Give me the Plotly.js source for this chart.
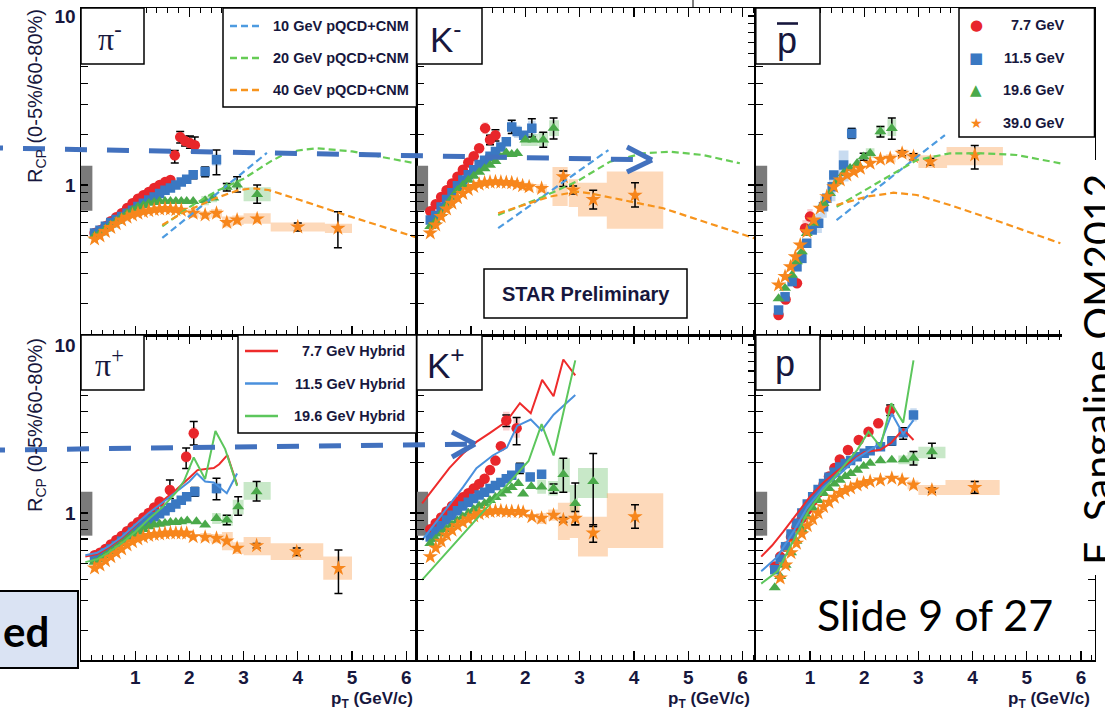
<!DOCTYPE html>
<html><head><meta charset="utf-8">
<script src="https://cdn.plot.ly/plotly-3.0.1.min.js"></script>
<style>html,body{margin:0;padding:0;background:#fff;}#chart{width:1105px;height:712px;}</style>
</head><body><div id="chart"></div>
<script>
// ================= DATA =================
const energyLabels = ['7.7 GeV','11.5 GeV','19.6 GeV','39.0 GeV'];
const modelLabels  = ['10 GeV pQCD+CNM','20 GeV pQCD+CNM','40 GeV pQCD+CNM'];
const hybridLabels = ['7.7 GeV Hybrid','11.5 GeV Hybrid','19.6 GeV Hybrid'];
const xTickVals    = [1,2,3,4,5,6];
const yTickVals    = [0.2,0.3,0.4,0.5,0.6,0.7,0.8,0.9,1,2,3,4,5,6,7,8,9,10];
const yTickText    = ['','','','','','','','','1','','','','','','','','','10'];
const normBoxTop = [0.705,1.30], normBoxBottom = [0.733,1.34], normBoxWidth = 0.21;

// ---- pi- ----
const pimRedX = [0.25,0.35,0.45,0.55,0.65,0.75,0.85,0.95,1.05,1.15,1.25,1.35,1.45,1.55,1.65,1.73,1.83,1.92,2.01,2.10];
const pimRedY = [0.52,0.54,0.57,0.61,0.645,0.68,0.73,0.78,0.83,0.87,0.91,0.96,1.00,1.04,1.07,1.50,1.92,1.82,1.77,1.72];
const pimRedErr = [[1.73,0.10,0.15],[1.83,0.15,0.15],[1.92,0.12,0.12],[2.01,0.18,0.12],[2.10,0.20,0.15]];
const pimRedSys = [[1.68,1.78,1.42,1.58],[1.78,1.88,1.82,2.02],[1.87,1.97,1.72,1.92],[1.96,2.06,1.68,1.86],[2.05,2.15,1.63,1.81]];
const pimBlueX = [0.25,0.35,0.45,0.55,0.65,0.75,0.85,0.95,1.05,1.15,1.25,1.35,1.45,1.55,1.65,1.75,1.85,1.95,2.07,2.29,2.50];
const pimBlueY = [0.52,0.54,0.57,0.60,0.625,0.65,0.68,0.71,0.745,0.78,0.815,0.85,0.89,0.93,0.96,1.00,1.04,1.08,1.15,1.20,1.41];
const pimBlueErr = [[2.07,0.06,0.06],[2.29,0.08,0.08],[2.50,0.20,0.26]];
const pimBlueSys = [[2.42,2.58,1.30,1.53]];
const pimGreenX = [0.25,0.35,0.45,0.55,0.65,0.75,0.85,0.95,1.05,1.15,1.25,1.35,1.45,1.55,1.65,1.75,1.85,1.95,2.07,2.29,2.44,2.69,2.88,3.25];
const pimGreenY = [0.50,0.52,0.55,0.58,0.61,0.645,0.68,0.71,0.74,0.76,0.78,0.79,0.80,0.80,0.80,0.80,0.80,0.80,0.80,0.81,0.84,0.97,1.00,0.88];
const pimGreenErr = [[2.69,0.05,0.05],[2.88,0.12,0.09],[3.25,0.12,0.10]];
const pimGreenSys = [[2.22,2.36,0.76,0.86],[2.37,2.51,0.79,0.89],[2.62,2.76,0.92,1.03],[2.81,2.95,0.94,1.07],[3.0,3.5,0.80,0.97]];
const pimOrangeX = [0.25,0.35,0.45,0.55,0.65,0.75,0.85,0.95,1.05,1.15,1.25,1.35,1.45,1.55,1.65,1.75,1.85,2.07,2.29,2.50,2.69,2.88,3.25,4.00,4.74];
const pimOrangeY = [0.48,0.50,0.53,0.56,0.59,0.62,0.645,0.665,0.68,0.695,0.705,0.715,0.72,0.725,0.72,0.715,0.71,0.68,0.665,0.68,0.60,0.62,0.63,0.565,0.555];
const pimOrangeErr = [[4.00,0.03,0.03],[4.74,0.14,0.13]];
const pimOrangeSys = [[1.97,2.17,0.64,0.72],[2.19,2.39,0.63,0.70],[2.40,2.60,0.64,0.72],[2.60,2.79,0.56,0.65],[2.79,3.0,0.58,0.66],[3.0,3.5,0.59,0.68],[3.5,4.5,0.53,0.60],[4.5,5.0,0.52,0.59]];
const pimM10X = [1.50,3.43], pimM10Y = [0.486,1.547];
const pimM20X = [1.50,2.00,2.50,3.00,3.50,3.75,4.00,4.35,5.00,5.50,6.19];
const pimM20Y = [0.57,0.74,0.92,1.09,1.38,1.52,1.60,1.65,1.58,1.48,1.34];
const pimM40X = [1.50,1.86,2.48,2.91,3.17,3.46,4.04,4.78,6.19];
const pimM40Y = [0.58,0.68,0.834,0.934,0.956,0.934,0.815,0.68,0.49];

// ---- K- ----
const kamRedX = [0.25,0.35,0.45,0.55,0.65,0.75,0.85,0.95,1.05,1.15,1.26,1.35,1.45];
const kamRedY = [0.70,0.77,0.85,0.93,1.02,1.12,1.23,1.36,1.48,1.65,2.17,1.85,1.97];
const kamRedErr = [[1.35,0.12,0.12],[1.45,0.15,0.15]];
const kamRedSys = [[1.21,1.31,2.0,2.35],[1.30,1.40,1.72,2.0]];
const kamBlueX = [0.25,0.35,0.45,0.55,0.65,0.75,0.85,0.95,1.05,1.15,1.25,1.35,1.45,1.55,1.65,1.75,1.85,1.97,2.12];
const kamBlueY = [0.62,0.66,0.74,0.82,0.90,0.99,1.07,1.15,1.23,1.32,1.40,1.48,1.58,1.68,1.80,2.20,2.07,1.97,2.17];
const kamBlueErr = [[1.75,0.22,0.18],[2.12,0.30,0.25]];
const kamBlueSys = [[1.69,1.81,2.0,2.4],[1.79,1.91,1.9,2.25],[2.05,2.19,1.95,2.4]];
const kamGreenX = [0.25,0.35,0.45,0.55,0.65,0.75,0.85,0.95,1.05,1.15,1.25,1.35,1.45,1.55,1.65,1.75,1.85,2.00,2.15,2.33,2.52];
const kamGreenY = [0.57,0.61,0.68,0.76,0.84,0.93,1.00,1.07,1.13,1.19,1.25,1.31,1.38,1.46,1.55,1.52,1.54,1.85,1.85,1.85,2.17];
const kamGreenErr = [[2.33,0.20,0.18],[2.52,0.32,0.30]];
const kamGreenSys = [[1.92,2.08,1.7,2.0],[2.07,2.23,1.7,2.0],[2.24,2.42,1.7,2.05],[2.44,2.62,1.95,2.42]];
const kamOrangeX = [0.25,0.35,0.45,0.55,0.65,0.75,0.85,0.95,1.05,1.15,1.25,1.35,1.45,1.55,1.65,1.75,1.85,1.95,2.07,2.30,2.70,2.88,3.25,4.02];
const kamOrangeY = [0.52,0.58,0.65,0.72,0.78,0.84,0.89,0.94,0.98,1.01,1.03,1.04,1.045,1.04,1.035,1.03,1.01,0.99,0.975,0.955,1.12,0.935,0.82,0.87];
const kamOrangeErr = [[2.70,0.09,0.14],[2.88,0.05,0.05],[3.25,0.11,0.10],[4.02,0.16,0.13]];
const kamOrangeSys = [[1.95,2.15,0.92,1.03],[2.2,2.4,0.9,1.01],[2.5,2.78,0.75,1.28],[2.8,2.97,0.74,1.08],[2.97,3.5,0.65,1.03],[3.5,4.54,0.55,1.2]];
const kamM10X = [1.50,3.53], kamM10Y = [0.555,1.61];
const kamM20X = [1.50,2.33,2.95,3.56,4.17,4.67,5.27,5.95];
const kamM20Y = [0.665,0.853,1.05,1.374,1.54,1.574,1.505,1.344];
const kamM40X = [1.50,2.45,2.95,3.19,4.54,5.40,6.22];
const kamM40Y = [0.68,0.853,0.913,0.893,0.728,0.593,0.484];

// ---- anti-proton ----
const pbRedX = [0.42,0.55,0.76,0.91,1.00];
const pbRedY = [0.17,0.21,0.262,0.555,0.65];
const pbRedErr = [];
const pbRedSys = [[0.86,0.96,0.5,0.62],[0.95,1.05,0.58,0.72]];
const pbBlueX = [0.42,0.54,0.67,0.76,0.85,0.94,1.04,1.16,1.25,1.31,1.41,1.44,1.62,1.77];
const pbBlueY = [0.182,0.218,0.268,0.328,0.368,0.452,0.541,0.594,0.744,0.834,0.977,1.146,1.313,2.02];
const pbBlueErr = [[1.77,0.14,0.12]];
const pbBlueSys = [[1.10,1.22,0.52,0.68],[1.19,1.31,0.64,0.86],[1.35,1.47,0.80,1.22],[1.53,1.71,1.05,1.60],[1.70,1.84,1.85,2.2]];
const pbGreenX = [0.42,0.54,0.67,0.76,0.85,0.94,1.07,1.25,1.37,1.50,1.62,1.74,1.87,1.99,2.11,2.30,2.51];
const pbGreenY = [0.213,0.245,0.293,0.352,0.403,0.518,0.594,0.779,0.893,1.046,1.173,1.255,1.344,1.471,1.54,2.07,2.165];
const pbGreenErr = [[1.99,0.07,0.07],[2.30,0.15,0.15],[2.51,0.33,0.30]];
const pbGreenSys = [[2.03,2.19,1.45,1.65],[2.22,2.38,1.92,2.25],[2.43,2.59,1.95,2.45]];
const pbOrangeX = [0.42,0.54,0.64,0.73,0.82,0.94,1.07,1.19,1.31,1.44,1.56,1.68,1.81,1.93,2.11,2.30,2.48,2.70,2.91,3.22,4.04];
const pbOrangeY = [0.256,0.287,0.328,0.376,0.441,0.529,0.62,0.728,0.853,0.977,1.07,1.146,1.199,1.255,1.344,1.419,1.439,1.54,1.471,1.374,1.505];
const pbOrangeErr = [[2.70,0.05,0.05],[2.91,0.06,0.06],[3.22,0.06,0.06],[4.04,0.21,0.26]];
const pbOrangeSys = [[2.4,2.58,1.36,1.52],[2.6,2.8,1.45,1.63],[2.8,3.0,1.38,1.56],[3.0,3.53,1.26,1.5],[3.52,4.56,1.31,1.68]];
const pbM10X = [1.49,3.49], pbM10Y = [0.62,1.976];
const pbM20X = [1.49,2.35,2.97,3.58,4.20,4.81,5.62];
const pbM20Y = [0.744,1.07,1.405,1.54,1.54,1.505,1.344];
const pbM40X = [1.49,2.05,2.54,2.97,3.58,4.50,5.62];
const pbM40Y = [0.761,0.853,0.90,0.873,0.761,0.606,0.452];

// ---- pi+ ----
const pipRedX = [0.25,0.35,0.45,0.55,0.65,0.75,0.85,0.95,1.05,1.15,1.25,1.35,1.45,1.64,1.94,2.08];
const pipRedY = [0.56,0.58,0.61,0.65,0.69,0.73,0.78,0.83,0.88,0.94,1.00,1.08,1.17,1.37,2.16,2.98];
const pipRedErr = [[1.64,0.20,0.15],[1.94,0.28,0.32],[2.08,0.52,0.44]];
const pipRedSys = [[1.59,1.69,1.28,1.47],[1.89,1.99,2.0,2.33],[2.03,2.13,2.75,3.25]];
const pipBlueX = [0.25,0.35,0.45,0.55,0.65,0.75,0.85,0.95,1.05,1.15,1.25,1.35,1.45,1.55,1.65,1.75,1.85,1.95,2.10,2.50];
const pipBlueY = [0.53,0.55,0.58,0.61,0.64,0.68,0.72,0.77,0.81,0.86,0.91,0.95,0.99,1.03,1.08,1.13,1.19,1.25,1.34,1.40];
const pipBlueErr = [[2.10,0.08,0.08],[2.50,0.21,0.20]];
const pipBlueSys = [[2.03,2.17,1.25,1.44],[2.43,2.57,1.3,1.52]];
const pipGreenX = [0.25,0.35,0.45,0.55,0.65,0.75,0.85,0.95,1.05,1.15,1.25,1.35,1.45,1.55,1.65,1.75,1.85,1.96,2.13,2.29,2.50,2.69,2.90,3.24];
const pipGreenY = [0.51,0.53,0.56,0.59,0.62,0.66,0.70,0.74,0.77,0.80,0.83,0.85,0.86,0.87,0.88,0.88,0.89,0.90,0.89,0.85,0.93,0.91,1.09,1.34];
const pipGreenErr = [[2.69,0.06,0.06],[2.90,0.16,0.12],[3.24,0.20,0.16]];
const pipGreenSys = [[2.42,2.58,0.86,1.0],[2.6,2.8,0.84,0.98],[2.8,3.0,0.98,1.2],[3.0,3.5,1.2,1.53]];
const pipOrangeX = [0.25,0.35,0.45,0.55,0.65,0.75,0.85,0.95,1.05,1.15,1.25,1.35,1.45,1.55,1.65,1.75,1.85,1.95,2.07,2.29,2.50,2.69,2.88,3.24,3.98,4.75];
const pipOrangeY = [0.47,0.49,0.52,0.55,0.58,0.61,0.645,0.675,0.70,0.72,0.735,0.745,0.75,0.757,0.76,0.76,0.76,0.757,0.722,0.717,0.707,0.681,0.616,0.639,0.588,0.468];
const pipOrangeErr = [[3.24,0.02,0.02],[3.98,0.03,0.03],[4.75,0.134,0.136]];
const pipOrangeSys = [[2.2,2.4,0.68,0.76],[2.4,2.6,0.66,0.75],[2.6,2.8,0.60,0.77],[2.8,3.0,0.57,0.67],[3.0,3.5,0.56,0.72],[3.5,4.47,0.525,0.66],[4.47,5.0,0.40,0.55]];
const pipH77X  = [0.08,0.30,0.50,0.75,1.00,1.25,1.50,1.75,2.00,2.15,2.30,2.45,2.55,2.70,2.88];
const pipH77Y  = [0.55,0.57,0.62,0.71,0.84,1.02,1.18,1.37,1.62,1.80,1.83,1.85,1.95,2.21,1.47];
const pipH115X = [0.08,0.30,0.50,0.75,1.00,1.25,1.50,1.75,2.00,2.14,2.29,2.45,2.69,2.88];
const pipH115Y = [0.56,0.58,0.63,0.72,0.85,1.00,1.15,1.33,1.54,1.72,1.54,1.52,1.31,1.72];
const pipH196X = [0.08,0.30,0.50,0.75,1.00,1.25,1.50,1.75,1.90,2.08,2.29,2.48,2.66,2.88];
const pipH196Y = [0.51,0.53,0.58,0.66,0.77,0.92,1.08,1.32,1.55,2.14,1.59,3.08,2.40,1.45];

// ---- K+ ----
const kapRedX = [0.25,0.35,0.45,0.55,0.65,0.75,0.85,0.95,1.05,1.15,1.25,1.35,1.45,1.55,1.65,1.84];
const kapRedY = [0.80,0.87,0.94,1.02,1.10,1.17,1.24,1.31,1.40,1.49,1.60,1.80,2.05,2.50,3.55,3.20];
const kapRedErr = [[1.65,0.28,0.28],[1.84,0.50,0.65]];
const kapRedSys = [[1.59,1.71,3.1,4.0],[1.78,1.9,2.8,3.7]];
const kapBlueX = [0.25,0.35,0.45,0.55,0.65,0.75,0.85,0.95,1.05,1.15,1.25,1.35,1.45,1.55,1.65,1.75,1.90,2.09,2.30];
const kapBlueY = [0.72,0.78,0.84,0.91,0.97,1.03,1.10,1.16,1.22,1.28,1.33,1.40,1.46,1.52,1.60,1.68,1.85,1.64,1.70];
const kapBlueErr = [[1.90,0.13,0.13],[2.30,0.08,0.08]];
const kapBlueSys = [[1.84,1.96,1.72,1.98],[2.03,2.15,1.55,1.75],[2.24,2.36,1.6,1.8]];
const kapGreenX = [0.25,0.35,0.45,0.55,0.65,0.75,0.85,0.95,1.05,1.15,1.25,1.35,1.45,1.55,1.65,1.75,1.87,1.96,2.11,2.30,2.52,2.70,2.92,3.25];
const kapGreenY = [0.66,0.70,0.75,0.80,0.85,0.90,0.95,1.00,1.05,1.10,1.14,1.19,1.24,1.30,1.36,1.42,1.50,1.30,1.44,1.43,1.40,1.70,1.14,1.54];
const kapGreenErr = [[2.52,0.09,0.09],[2.70,0.42,0.37],[2.92,0.37,0.29],[3.25,0.72,0.71]];
const kapGreenSys = [[2.22,2.38,1.3,1.58],[2.42,2.6,1.27,1.55],[2.6,2.82,1.33,2.12],[2.82,2.97,1.01,1.47],[2.97,3.52,1.23,1.85]];
const kapOrangeX = [0.25,0.35,0.45,0.55,0.65,0.75,0.85,0.95,1.05,1.15,1.25,1.35,1.45,1.55,1.65,1.75,1.87,1.96,2.12,2.30,2.52,2.70,2.92,3.25,4.02];
const kapOrangeY = [0.55,0.62,0.68,0.74,0.79,0.84,0.88,0.92,0.96,0.99,1.01,1.02,1.03,1.03,1.02,1.02,1.02,1.01,0.95,0.93,0.97,0.91,0.93,0.76,0.95];
const kapOrangeErr = [[2.70,0.03,0.03],[2.92,0.09,0.08],[3.25,0.09,0.09],[4.02,0.17,0.14]];
const kapOrangeSys = [[2.2,2.4,0.86,1.0],[2.42,2.6,0.9,1.05],[2.6,2.82,0.69,1.15],[2.82,3.0,0.71,1.16],[2.97,3.52,0.55,0.95],[3.5,4.54,0.62,1.31]];
const kapH77X  = [0.10,0.35,0.60,0.85,1.10,1.35,1.65,1.90,2.10,2.31,2.52,2.70,2.92];
const kapH77Y  = [1.14,1.45,1.85,2.25,2.65,3.00,3.50,4.50,3.92,6.20,4.95,8.20,6.60];
const kapH115X = [0.10,0.35,0.60,0.85,1.10,1.40,1.66,1.85,2.10,2.30,2.52,2.92];
const kapH115Y = [0.69,0.88,1.12,1.42,1.85,2.20,2.45,3.30,3.60,3.10,3.85,5.04];
const kapH196X = [0.10,2.06,2.30,2.52,2.92];
const kapH196Y = [0.40,2.04,3.38,2.20,8.10];

// ---- proton ----
const ppRedX = [0.35,0.45,0.55,0.65,0.75,0.85,0.95,1.05,1.15,1.25,1.35,1.45,1.55,1.70,1.90,2.08,2.26,2.48];
const ppRedY = [0.48,0.55,0.63,0.72,0.82,0.93,1.05,1.18,1.32,1.48,1.65,1.85,2.08,2.37,2.72,3.05,3.42,4.10];
const ppRedErr = [[2.48,0.30,0.30]];
const ppRedSys = [[2.42,2.54,3.8,4.4]];
const ppBlueX = [0.35,0.45,0.55,0.65,0.75,0.85,0.95,1.05,1.15,1.25,1.35,1.45,1.55,1.65,1.75,1.87,2.00,2.11,2.30,2.51,2.72,2.91];
const ppBlueY = [0.46,0.53,0.63,0.75,0.87,1.00,1.13,1.25,1.38,1.50,1.63,1.75,1.88,1.97,2.05,2.16,2.27,2.35,2.48,2.68,3.00,3.83];
const ppBlueErr = [[2.30,0.10,0.10],[2.51,0.15,0.15],[2.72,0.22,0.25]];
const ppBlueSys = [[2.85,2.97,3.5,4.2]];
const ppGreenX = [0.35,0.45,0.55,0.65,0.75,0.85,0.95,1.05,1.15,1.25,1.35,1.45,1.55,1.65,1.75,1.87,1.99,2.11,2.30,2.51,2.73,2.91,3.25];
const ppGreenY = [0.36,0.42,0.49,0.58,0.68,0.80,0.95,1.07,1.19,1.31,1.40,1.49,1.57,1.65,1.72,1.80,1.90,1.98,2.05,2.07,2.08,2.12,2.32];
const ppGreenErr = [[2.91,0.20,0.19],[3.25,0.28,0.20]];
const ppGreenSys = [[2.63,2.83,1.95,2.2],[2.8,3.0,1.95,2.3],[3.0,3.5,2.12,2.48]];
const ppOrangeX = [0.45,0.55,0.65,0.75,0.85,0.95,1.05,1.15,1.25,1.35,1.45,1.55,1.65,1.75,1.87,1.99,2.11,2.30,2.51,2.70,2.91,3.25,4.04];
const ppOrangeY = [0.41,0.49,0.58,0.66,0.75,0.84,0.92,1.00,1.09,1.16,1.24,1.31,1.36,1.41,1.47,1.51,1.54,1.57,1.61,1.57,1.47,1.37,1.42];
const ppOrangeErr = [[3.25,0.04,0.04],[4.04,0.12,0.11]];
const ppOrangeSys = [[2.8,3.0,1.38,1.56],[3.0,3.5,1.28,1.47],[3.5,4.5,1.28,1.57]];
const ppH77X  = [0.10,0.30,0.50,0.75,1.00,1.25,1.50,1.75,2.00,2.30,2.50,2.72,2.91];
const ppH77Y  = [0.55,0.64,0.77,0.98,1.25,1.52,1.78,2.02,2.30,2.38,2.62,3.15,2.72];
const ppH115X = [0.10,0.40,0.70,0.95,1.25,1.56,1.87,2.11,2.30,2.51,2.72,2.91];
const ppH115Y = [0.45,0.55,0.78,1.08,1.42,1.72,2.12,2.37,2.60,3.90,2.95,3.57];
const ppH196X = [0.10,0.40,0.70,0.95,1.25,1.56,1.87,2.08,2.30,2.50,2.72,2.91];
const ppH196Y = [0.38,0.45,0.69,1.00,1.37,1.80,2.37,3.05,2.48,4.50,3.45,8.10];

// ================= STYLE =================
const W = 1105, H = 712;
const COL = {red:'#e8262b', blue:'#3a78c2', green:'#4aa94a', orange:'#f7861c'};
const SYSC = {red:'rgba(240,110,110,0.33)', blue:'rgba(110,160,215,0.38)', green:'rgba(110,195,110,0.38)', orange:'rgba(250,165,90,0.42)'};
const SYM = {red:'circle', blue:'square', green:'triangle-up', orange:'star'};
const MSZ = {red:10.5, blue:9.5, green:10.5, orange:11.5};
const LINESTY = {
  m10:{color:'#4d9be0', width:2.2, dash:'7px,4px'}, m20:{color:'#66cc55', width:2.2, dash:'7px,4px'}, m40:{color:'#f7941d', width:2.2, dash:'7px,4px'},
  h77:{color:'#ee2b2b', width:2}, h115:{color:'#4a90dd', width:2}, h196:{color:'#5cc65c', width:2}
};
const FONT = 'Liberation Sans, Arial, Helvetica, sans-serif';
const INK = '#17173d';

const panels = [
  {n:'', row:0, col:0, s:{red:[pimRedX,pimRedY,pimRedErr,pimRedSys], blue:[pimBlueX,pimBlueY,pimBlueErr,pimBlueSys], green:[pimGreenX,pimGreenY,pimGreenErr,pimGreenSys], orange:[pimOrangeX,pimOrangeY,pimOrangeErr,pimOrangeSys]},
   lines:[[pimM10X,pimM10Y,'m10'],[pimM20X,pimM20Y,'m20'],[pimM40X,pimM40Y,'m40']]},
  {n:'2', row:0, col:1, s:{red:[kamRedX,kamRedY,kamRedErr,kamRedSys], blue:[kamBlueX,kamBlueY,kamBlueErr,kamBlueSys], green:[kamGreenX,kamGreenY,kamGreenErr,kamGreenSys], orange:[kamOrangeX,kamOrangeY,kamOrangeErr,kamOrangeSys]},
   lines:[[kamM10X,kamM10Y,'m10'],[kamM20X,kamM20Y,'m20'],[kamM40X,kamM40Y,'m40']]},
  {n:'3', row:0, col:2, s:{red:[pbRedX,pbRedY,pbRedErr,pbRedSys], blue:[pbBlueX,pbBlueY,pbBlueErr,pbBlueSys], green:[pbGreenX,pbGreenY,pbGreenErr,pbGreenSys], orange:[pbOrangeX,pbOrangeY,pbOrangeErr,pbOrangeSys]},
   lines:[[pbM10X,pbM10Y,'m10'],[pbM20X,pbM20Y,'m20'],[pbM40X,pbM40Y,'m40']]},
  {n:'4', row:1, col:0, s:{red:[pipRedX,pipRedY,pipRedErr,pipRedSys], blue:[pipBlueX,pipBlueY,pipBlueErr,pipBlueSys], green:[pipGreenX,pipGreenY,pipGreenErr,pipGreenSys], orange:[pipOrangeX,pipOrangeY,pipOrangeErr,pipOrangeSys]},
   lines:[[pipH77X,pipH77Y,'h77'],[pipH115X,pipH115Y,'h115'],[pipH196X,pipH196Y,'h196']]},
  {n:'5', row:1, col:1, s:{red:[kapRedX,kapRedY,kapRedErr,kapRedSys], blue:[kapBlueX,kapBlueY,kapBlueErr,kapBlueSys], green:[kapGreenX,kapGreenY,kapGreenErr,kapGreenSys], orange:[kapOrangeX,kapOrangeY,kapOrangeErr,kapOrangeSys]},
   lines:[[kapH77X,kapH77Y,'h77'],[kapH115X,kapH115Y,'h115'],[kapH196X,kapH196Y,'h196']]},
  {n:'6', row:1, col:2, s:{red:[ppRedX,ppRedY,ppRedErr,ppRedSys], blue:[ppBlueX,ppBlueY,ppBlueErr,ppBlueSys], green:[ppGreenX,ppGreenY,ppGreenErr,ppGreenSys], orange:[ppOrangeX,ppOrangeY,ppOrangeErr,ppOrangeSys]},
   lines:[[ppH77X,ppH77Y,'h77'],[ppH115X,ppH115Y,'h115'],[ppH196X,ppH196Y,'h196']]}
];

// pixel geometry of the panels
const colPx = [[81,416.5],[416.7,754.5],[755.8,1094.5]];
const colMax = [6.19,6.22,6.25];
const rowPx = [[8,335],[335,660]];
const rowLog = [[-0.8876,1.0473],[-0.875,1.0595]];

function errArrays(xs, errs){
  const ep = xs.map(()=>NaN), em = xs.map(()=>NaN);
  errs.forEach(([ex,p,m])=>{ const i = xs.findIndex(v=>Math.abs(v-ex)<1e-9); if(i>=0){ ep[i]=p; em[i]=m; } });
  return [ep, em];
}
function boxTrace(boxes, fill, xa, ya){
  const x=[], y=[];
  boxes.forEach(([x0,x1,lo,hi])=>{ x.push(x0,x1,x1,x0,x0,null); y.push(lo,lo,hi,hi,lo,null); });
  return {type:'scatter', mode:'lines', x, y, xaxis:xa, yaxis:ya, fill:'toself', fillcolor:fill, line:{width:0}, hoverinfo:'skip', showlegend:false};
}

const traces = [];
const layout = {
  width:W, height:H, margin:{l:0,r:0,t:0,b:0}, paper_bgcolor:'#fff', plot_bgcolor:'rgba(0,0,0,0)',
  showlegend:false, shapes:[], annotations:[]
};

panels.forEach(p=>{
  const xa = 'x'+p.n, ya = 'y'+p.n;
  const order = ['red','blue','green','orange'];
  order.forEach(c=>{ const sys = p.s[c][3]; if(sys.length) traces.push(boxTrace(sys, SYSC[c], xa, ya)); });
  const nb = p.row===0 ? normBoxTop : normBoxBottom;
  traces.push(boxTrace([[0, normBoxWidth, nb[0], nb[1]]], '#7a7a7a', xa, ya));
  order.forEach(c=>{
    const [xs, ys, errs] = p.s[c];
    const [ep, em] = errArrays(xs, errs);
    traces.push({type:'scatter', mode:'markers', x:xs, y:ys, xaxis:xa, yaxis:ya, hoverinfo:'skip', showlegend:false,
      marker:{symbol:SYM[c], color:COL[c], size:MSZ[c], line:{width:0}},
      error_y:{type:'data', symmetric:false, array:ep, arrayminus:em, color:'#000', thickness:1.5, width:4, visible:true}});
  });
  p.lines.forEach(([lx,ly,st])=>{
    traces.push({type:'scatter', mode:'lines', x:lx, y:ly, xaxis:xa, yaxis:ya, line:LINESTY[st], hoverinfo:'skip', showlegend:false});
  });
  const cp = colPx[p.col], rp = rowPx[p.row];
  layout['xaxis'+p.n] = {
    domain:[cp[0]/W, cp[1]/W], range:[0, colMax[p.col]], anchor:ya, showgrid:false, zeroline:false,
    showline:true, linecolor:'#000', linewidth:1.5, mirror:'ticks', ticks:'inside', ticklen:9, tickwidth:1.3, tickcolor:'#000',
    tickmode:'array', tickvals:xTickVals, ticktext:xTickVals.map(String), showticklabels:p.row===1,
    tickfont:{family:FONT, size:19, color:INK, weight:'bold'},
    minor:{tickmode:'linear', ticks:'inside', dtick:0.2, tick0:0, ticklen:5, tickwidth:1, tickcolor:'#000', showgrid:false}
  };
  layout['yaxis'+p.n] = {
    domain:[1-rp[1]/H, 1-rp[0]/H], type:'log', range:rowLog[p.row], anchor:xa, showgrid:false, zeroline:false,
    showline:true, linecolor:'#000', linewidth:1.5, mirror:'ticks', ticks:'inside', ticklen:7, tickwidth:1.2, tickcolor:'#000',
    tickmode:'array', tickvals:yTickVals, ticktext:yTickText, showticklabels:p.col===0,
    tickfont:{family:FONT, size:19, color:INK, weight:'bold'}
  };
});

// ---------- paper-space decorations ----------
const P = x=>x/W, Q = y=>1-y/H;
function ann(text, x, y, o){ return Object.assign({text, x:P(x), y:Q(y), xref:'paper', yref:'paper', showarrow:false, xanchor:'center', yanchor:'middle',
  font:{family:FONT, size:14, color:'#111'}}, o||{}); }
function rect(x0,y0,x1,y1,o){ return Object.assign({type:'rect', xref:'paper', yref:'paper', x0:P(x0), x1:P(x1), y0:Q(y0), y1:Q(y1),
  line:{color:'#000', width:1.5}, fillcolor:'rgba(0,0,0,0)', layer:'above'}, o||{}); }
function seg(x0,y0,x1,y1,color,width,dash){ return {type:'line', xref:'paper', yref:'paper', x0:P(x0), y0:Q(y0), x1:P(x1), y1:Q(y1),
  line:{color, width, dash:dash||'solid'}, layer:'above'}; }
const S = layout.shapes, A = layout.annotations;

// panel label boxes
[[81,8,144,64],[416.7,8,482,64],[755.8,8,820,64],[81,335,144,390],[416.7,335,482,390],[755.8,335,820,390]].forEach(b=>S.push(rect(b[0],b[1],b[2],b[3],{fillcolor:'#fff'})));
A.push(ann('π<sup>-</sup>',110,37,{font:{family:'Liberation Serif, Times New Roman, serif', size:32, color:INK}}));
A.push(ann('K<sup>-</sup>',446,37,{font:{family:FONT, size:35, color:INK}}));
A.push(ann('p',787,40,{font:{family:FONT, size:36, color:INK}}));
S.push(seg(777,23.5,798,23.5,INK,2.6));
A.push(ann('π<sup>+</sup>',110,363,{font:{family:'Liberation Serif, Times New Roman, serif', size:32, color:INK}}));
A.push(ann('K<sup>+</sup>',446,363,{font:{family:FONT, size:35, color:INK}}));
A.push(ann('p',785,363,{font:{family:FONT, size:36, color:INK}}));

// legend: models (top-left)
S.push(rect(223,8,416.5,107,{fillcolor:'#fff'}));
['m10','m20','m40'].forEach((k,i)=>{
  const y = 26 + i*32;
  S.push(seg(230,y,263,y,LINESTY[k].color,2.5,'7px,4px'));
  A.push(ann('<b>'+modelLabels[i]+'</b>',271,y,{xanchor:'left', font:{family:FONT, size:14.5, color:INK}}));
});
// legend: energies (top-right)
S.push(rect(959,8,1094.5,137,{fillcolor:'#fff'}));
const glyph = {red:'●', blue:'■', green:'▲', orange:'★'};
['red','blue','green','orange'].forEach((c,i)=>{
  const y = 25 + i*32.7;
  A.push(ann(glyph[c],976,y,{font:{family:'DejaVu Sans, sans-serif', size:c==='orange'?14:15, color:COL[c]}}));
  A.push(ann('<b>'+energyLabels[i]+'</b>',1067,y,{xanchor:'right', font:{family:FONT, size:14.5, color:INK}}));
});
// legend: hybrid (bottom-left)
S.push(rect(238,335,416.5,433,{fillcolor:'#fff'}));
['h77','h115','h196'].forEach((k,i)=>{
  const y = 351 + i*32.5;
  S.push(seg(245,y,278,y,LINESTY[k].color,2.5));
  A.push(ann('<b>'+hybridLabels[i]+'</b>',407,y,{xanchor:'right', font:{family:FONT, size:14.5, color:INK}}));
});
// STAR Preliminary
S.push(rect(484,269,687,318,{fillcolor:'#fff'}));
A.push(ann('<b>STAR Preliminary</b>',585.5,293.5,{font:{family:FONT, size:20, color:INK}}));

// axis titles
[96,425].forEach(yc=>A.push(ann('R<sub>CP</sub> (0-5%/60-80%)',36,yc,{textangle:-90, font:{family:FONT, size:20, color:INK}})));
[415,752,1092].forEach(xr=>A.push(ann('<b>p<sub>T</sub> (GeV/c)</b>',xr,700,{xanchor:'right', font:{family:FONT, size:17, color:INK}})));

// slide overlays
S.push(seg(693,0,693,7,'#000',1));
const arrowBlue = '#4271be';
S.push(seg(-19,147.7,648,159.9,arrowBlue,5,'22px,20px'));
S.push(seg(627,147,652,160,arrowBlue,5));
S.push(seg(627,172,652,160,arrowBlue,5));
S.push(seg(-17,450.2,470,444.1,arrowBlue,5,'22px,20px'));
S.push(seg(452,432,475,444,arrowBlue,5));
S.push(seg(452,457,475,444,arrowBlue,5));
S.push(rect(-3,591,78,668,{fillcolor:'#dae3f3', line:{color:'#000', width:2}}));
A.push(ann('<b>ed</b>',51,631,{xanchor:'right', font:{family:'Lato, Liberation Sans, sans-serif', size:42, color:'#000'}}));
S.push(rect(1062,160,1110,575,{fillcolor:'#fff', line:{width:0}}));
A.push(ann('Slide 9 of 27',935,614,{font:{family:'Lato, Open Sans, sans-serif', size:43, color:'#000'}}));
A.push(ann('E. Sangaline QM2012',1097,370,{textangle:-90, font:{family:'Lato, Open Sans, sans-serif', size:41, color:'#000'}}));

Plotly.newPlot('chart', traces, layout, {displayModeBar:false, staticPlot:true});
</script>
</body></html>
